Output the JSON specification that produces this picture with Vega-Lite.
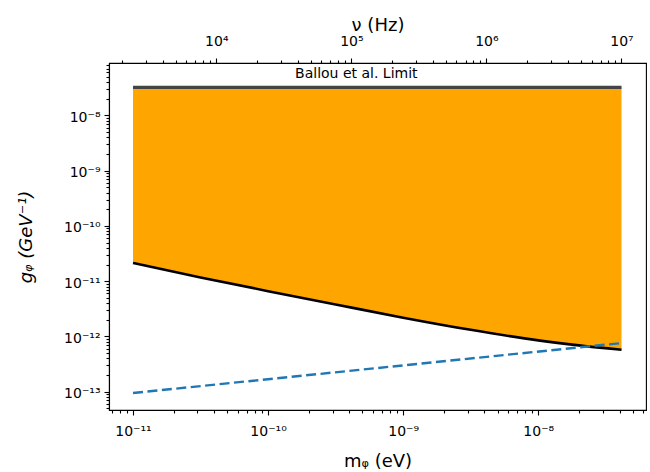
{
  "$schema": "https://vega.github.io/schema/vega-lite/v6.json",
  "autosize": {"type": "none"},
  "width": 537,
  "height": 347,
  "padding": {"left": 109, "top": 63, "right": 4, "bottom": 62},
  "background": "white",
  "config": {
    "font": "DejaVu Sans",
    "view": {"stroke": "black", "strokeWidth": 1.1},
    "axis": {
      "grid": false,
      "domainColor": "black",
      "domainWidth": 1.1,
      "tickColor": "black",
      "tickWidth": 1.1,
      "labelColor": "black",
      "labelFontSize": 14,
      "labelFont": "DejaVu Sans",
      "titleColor": "black",
      "titleFont": "DejaVu Sans",
      "titleFontWeight": "normal",
      "titleFontSize": 18,
      "labelOverlap": false,
      "labelFlush": false,
      "labelPadding": 4
    }
  },
  "datasets": {
    "sensitivity": [
      {"m": 1e-11, "g": 2.14e-11},
      {"m": 3.16e-11, "g": 1.17e-11},
      {"m": 1e-10, "g": 6.6e-12},
      {"m": 3.16e-10, "g": 3.8e-12},
      {"m": 1e-9, "g": 2.19e-12},
      {"m": 3.16e-9, "g": 1.32e-12},
      {"m": 1e-8, "g": 8.5e-13},
      {"m": 2e-8, "g": 6.9e-13},
      {"m": 4.136e-8, "g": 5.75e-13}
    ],
    "dashed": [
      {"m": 1e-11, "g": 9.5e-14},
      {"m": 4.136e-8, "g": 7.6e-13}
    ],
    "ballou": [
      {"m": 1e-11, "g": 3.2e-8},
      {"m": 4.136e-8, "g": 3.2e-8}
    ],
    "label": [
      {"m": 4.5e-10, "g": 5.5e-8, "text": "Ballou et al. Limit"}
    ],
    "freq": [
      {"nu": 2418},
      {"nu": 1e7}
    ]
  },
  "layer": [
    {
      "encoding": {
        "x": {
          "field": "m",
          "type": "quantitative",
          "scale": {"type": "log", "domain": [6.64e-12, 6.28e-8], "nice": false, "zero": false},
          "axis": {
            "orient": "bottom",
            "title": "mᵩ (eV)",
            "labelPadding": 9,
            "titlePadding": 14,
            "values": [7e-12, 8e-12, 9e-12, 1e-11, 2e-11, 3e-11, 4e-11, 5e-11, 6e-11, 7e-11, 8e-11, 9e-11, 1e-10, 2e-10, 3e-10, 4e-10, 5e-10, 6e-10, 7e-10, 8e-10, 9e-10, 1e-9, 2e-9, 3e-9, 4e-9, 5e-9, 6e-9, 7e-9, 8e-9, 9e-9, 1e-8, 2e-8, 3e-8, 4e-8, 5e-8, 6e-8],
            "tickSize": {"condition": {"test": "abs(log(datum.value)/LN10 - round(log(datum.value)/LN10)) < 0.001", "value": 5}, "value": 3},
            "labelExpr": "abs(log(datum.value)/LN10 - round(log(datum.value)/LN10)) < 0.001 ? (datum.value < 5e-11 ? '10⁻¹¹' : datum.value < 5e-10 ? '10⁻¹⁰' : datum.value < 5e-9 ? '10⁻⁹' : '10⁻⁸') : ''"
          }
        },
        "y": {
          "field": "g",
          "type": "quantitative",
          "scale": {"type": "log", "domain": [4.68e-14, 8.83e-8], "nice": false, "zero": false},
          "axis": {
            "orient": "left",
            "title": "gᵩ (GeV⁻¹)",
            "titleFontStyle": "italic",
            "titlePadding": 28,
            "labelOffset": 2,
            "values": [5e-14, 6e-14, 7e-14, 8e-14, 9e-14, 1e-13, 2e-13, 3e-13, 4e-13, 5e-13, 6e-13, 7e-13, 8e-13, 9e-13, 1e-12, 2e-12, 3e-12, 4e-12, 5e-12, 6e-12, 7e-12, 8e-12, 9e-12, 1e-11, 2e-11, 3e-11, 4e-11, 5e-11, 6e-11, 7e-11, 8e-11, 9e-11, 1e-10, 2e-10, 3e-10, 4e-10, 5e-10, 6e-10, 7e-10, 8e-10, 9e-10, 1e-9, 2e-9, 3e-9, 4e-9, 5e-9, 6e-9, 7e-9, 8e-9, 9e-9, 1e-8, 2e-8, 3e-8, 4e-8, 5e-8, 6e-8, 7e-8, 8e-8],
            "tickSize": {"condition": {"test": "abs(log(datum.value)/LN10 - round(log(datum.value)/LN10)) < 0.001", "value": 5}, "value": 3},
            "labelExpr": "abs(log(datum.value)/LN10 - round(log(datum.value)/LN10)) < 0.001 ? (datum.value > 5e-9 ? '10⁻⁸' : datum.value > 5e-10 ? '10⁻⁹' : datum.value > 5e-11 ? '10⁻¹⁰' : datum.value > 5e-12 ? '10⁻¹¹' : datum.value > 5e-13 ? '10⁻¹²' : '10⁻¹³') : ''"
          }
        }
      },
      "layer": [
        {
          "data": {"name": "sensitivity"},
          "mark": {"type": "area", "color": "#FFA500", "opacity": 1},
          "encoding": {"y2": {"datum": 3.2e-8}}
        },
        {
          "data": {"name": "sensitivity"},
          "mark": {"type": "line", "color": "black", "strokeWidth": 2.6, "interpolate": "monotone"},
          "encoding": {}
        },
        {
          "data": {"name": "dashed"},
          "mark": {"type": "line", "color": "#1f77b4", "strokeWidth": 2.4, "strokeDash": [10, 4.5]},
          "encoding": {}
        },
        {
          "data": {"name": "ballou"},
          "mark": {"type": "line", "color": "#444444", "strokeWidth": 3.2},
          "encoding": {}
        },
        {
          "data": {"name": "label"},
          "mark": {"type": "text", "fontSize": 14, "color": "black", "baseline": "middle", "align": "center", "font": "DejaVu Sans"},
          "encoding": {"text": {"field": "text"}}
        }
      ]
    },
    {
      "data": {"name": "freq"},
      "mark": {"type": "point", "opacity": 0},
      "encoding": {
        "x": {
          "field": "nu",
          "type": "quantitative",
          "scale": {"type": "log", "domain": [1605, 1.519e7], "nice": false, "zero": false},
          "axis": {
            "orient": "top",
            "title": "ν (Hz)",
            "labelPadding": 10,
            "titlePadding": 0,
            "values": [2000, 3000, 4000, 5000, 6000, 7000, 8000, 9000, 10000, 20000, 30000, 40000, 50000, 60000, 70000, 80000, 90000, 100000, 200000, 300000, 400000, 500000, 600000, 700000, 800000, 900000, 1000000, 2000000, 3000000, 4000000, 5000000, 6000000, 7000000, 8000000, 9000000, 10000000],
            "tickSize": {"condition": {"test": "abs(log(datum.value)/LN10 - round(log(datum.value)/LN10)) < 0.001", "value": 5}, "value": 3},
            "labelExpr": "abs(log(datum.value)/LN10 - round(log(datum.value)/LN10)) < 0.001 ? (datum.value < 5e4 ? '10⁴' : datum.value < 5e5 ? '10⁵' : datum.value < 5e6 ? '10⁶' : '10⁷') : ''"
          }
        }
      }
    }
  ],
  "resolve": {"scale": {"x": "independent"}, "axis": {"x": "independent"}}
}
